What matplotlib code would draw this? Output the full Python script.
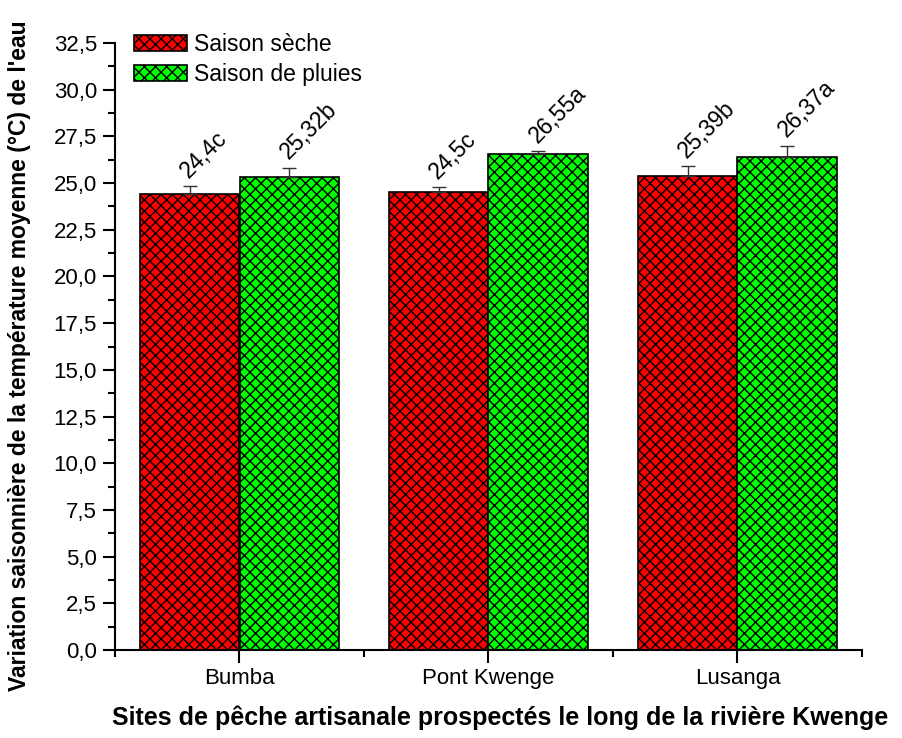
import matplotlib
matplotlib.use("Agg")
import matplotlib.pyplot as plt
import numpy as np
from matplotlib.ticker import FixedLocator, MultipleLocator, FuncFormatter

plt.rcParams['font.family'] = ['Liberation Sans', 'DejaVu Sans']
plt.rcParams['hatch.linewidth'] = 1.0

sites = ["Bumba", "Pont Kwenge", "Lusanga"]
series_names = ["Saison sèche", "Saison de pluies"]
dry = [24.4, 24.5, 25.39]
rainy = [25.32, 26.55, 26.37]
dry_err = [0.42, 0.27, 0.5]
rainy_err = [0.5, 0.16, 0.62]
dry_labels = ["24,4c", "24,5c", "25,39b"]
rainy_labels = ["25,32b", "26,55a", "26,37a"]
y_ticks = [0, 2.5, 5, 7.5, 10, 12.5, 15, 17.5, 20, 22.5, 25, 27.5, 30, 32.5]

fig = plt.figure(figsize=(9.03, 7.38), dpi=100)
ax = fig.add_axes([115/903, 1-650/738, (862-115)/903, (650-43)/738])

x = np.arange(1, len(sites) + 1)
w = 0.4
colors = ["#ff0000", "#00ff00"]
for i, (vals, errs, labs) in enumerate([(dry, dry_err, dry_labels), (rainy, rainy_err, rainy_labels)]):
    xs = x - w/2 + i*w
    ax.bar(xs, vals, width=w, color=colors[i], edgecolor="black", linewidth=1.2,
           hatch="xxx", label=series_names[i], zorder=2)
    ax.errorbar(xs, vals, yerr=[np.zeros(len(vals)), errs], fmt="none", ecolor="#333333",
                elinewidth=1.0, capsize=5, capthick=1.0, zorder=3)
    for xx, v, e, t in zip(xs, vals, errs, labs):
        ax.annotate(t, (xx, v + e), xytext=(2, 3), textcoords="offset points",
                    rotation=45, rotation_mode="anchor", ha="left", va="bottom",
                    fontsize=16.5)

ax.set_xlim(0.5, 3.5)
ax.set_ylim(0, 32.5)
ax.set_xticks(x)
ax.set_xticklabels(sites, fontsize=16)
ax.xaxis.set_minor_locator(FixedLocator([0.5, 1.5, 2.5, 3.5]))
ax.set_yticks(y_ticks)
ax.yaxis.set_minor_locator(MultipleLocator(1.25))
ax.yaxis.set_major_formatter(FuncFormatter(lambda v, p: f"{v:.1f}".replace(".", ",")))
ax.tick_params(axis="y", labelsize=16, pad=4)
ax.tick_params(axis="x", pad=4)
ax.tick_params(which="major", length=9, width=1.5, direction="out")
ax.tick_params(which="minor", length=5, width=1.5, direction="out")
for s in ["top", "right"]:
    ax.spines[s].set_visible(False)
for s in ["left", "bottom"]:
    ax.spines[s].set_linewidth(1.5)

ax.set_ylabel("Variation saisonnière de la température moyenne (°C) de l'eau",
              fontsize=16.5, fontweight="bold")
ax.yaxis.set_label_coords(-0.112, 0.485)
ax.set_xlabel("Sites de pêche artisanale prospectés le long de la rivière Kwenge",
              fontsize=18, fontweight="bold")
ax.xaxis.set_label_coords(0.515, -0.092)

ax.legend(loc="upper left", bbox_to_anchor=(134/903, 1-33/738), bbox_transform=fig.transFigure,
          frameon=False, fontsize=16.5, handlelength=2.3, handleheight=0.7,
          handletextpad=0.3, labelspacing=0.3, borderaxespad=0, borderpad=0)

fig.savefig("out.png", dpi=100)
